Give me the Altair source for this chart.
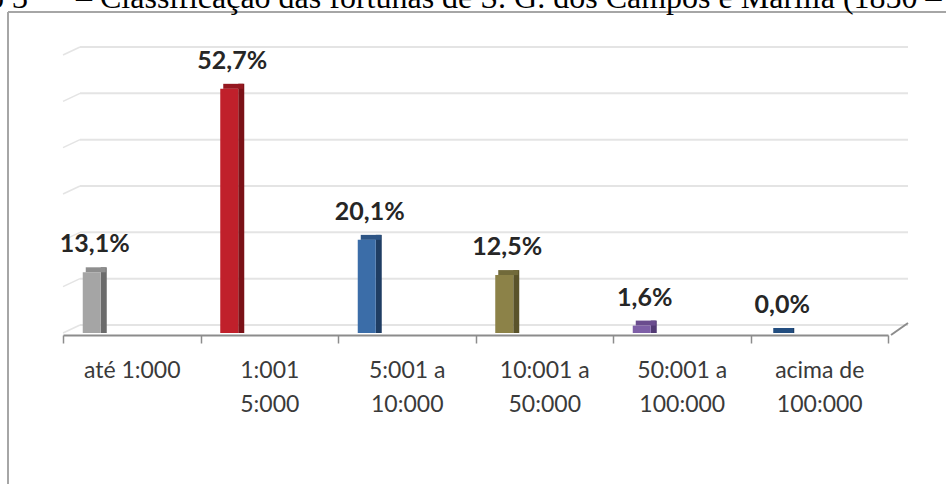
import altair as alt
import pandas as pd

# Fortune brackets (mil-réis) and share of inventories in each bracket (%)
categories = ["até 1:000", "1:001\n5:000", "5:001 a\n10:000", "10:001 a\n50:000",
              "50:001 a\n100:000", "acima de\n100:000"]
shares = [13.1, 52.7, 20.1, 12.5, 1.6, 0.0]
grid_values = [0, 10, 20, 30, 40, 50, 60]

# Face colours of the pseudo-3D columns: front, side and top
front_colors = ["#A5A5A5", "#C0202B", "#3B6DA8", "#8C8248", "#7E5FA7", "#2A5A91"]
side_colors = ["#6B6B6B", "#7A1117", "#1F3D63", "#5A532A", "#523A74", "#1B3B62"]
top_colors = ["#8E8E8E", "#951820", "#2E5585", "#716A3A", "#6A4C8E", "#234E80"]

title_left = "Gráfico 3"
title_right = "– Classificação das fortunas de S. G. dos Campos e Marília (1850 –"

df = pd.DataFrame({"cat": categories, "share": shares})
grid_df = pd.DataFrame({"v": grid_values})

W, H = 825, 278          # plot area
DEPTH_X, DEPTH_Y = 17, 8  # back-wall shift of the 3D box

x_enc = alt.X(
    "cat:N", sort=categories, title=None,
    scale=alt.Scale(paddingInner=0, paddingOuter=0),
    axis=alt.Axis(
        labelExpr="split(datum.label, '\\n')",
        labelAngle=0, labelFont="Lato", labelFontSize=23, labelColor="#3A3A3A",
        labelLineHeight=34, labelPadding=16, labelLimit=0,
        tickBand="extent", tickSize=8, tickColor="#8C8C8C", tickWidth=1.5,
        domainColor="#8C8C8C", domainWidth=2, offset=2, grid=False,
    ),
)
y_scale = alt.Scale(domain=[0, 60], nice=False)
y_enc = alt.Y("share:Q", scale=y_scale, axis=None)

base = alt.Chart(df)

# back-wall gridlines and their slanted continuation on the left wall
grid = alt.Chart(grid_df).mark_rule(color="#E4E4E4", strokeWidth=2, yOffset=-DEPTH_Y).encode(
    x=alt.value(DEPTH_X), x2=alt.value(W + DEPTH_X + 3),
    y=alt.Y("v:Q", scale=y_scale, axis=None),
)
wall = alt.Chart(grid_df).mark_rule(color="#E4E4E4", strokeWidth=1.5, y2Offset=-DEPTH_Y).encode(
    x=alt.value(0), x2=alt.value(DEPTH_X),
    y=alt.Y("v:Q", scale=y_scale, axis=None), y2="v:Q",
)
floor_edge = alt.Chart(pd.DataFrame({"v": [0]})).mark_rule(
    color="#8C8C8C", strokeWidth=2, yOffset=2, y2Offset=-10
).encode(
    x=alt.value(W + 3), x2=alt.value(W + DEPTH_X + 3),
    y=alt.Y("v:Q", scale=y_scale, axis=None), y2="v:Q",
)

side = base.mark_bar(size=6, xOffset=-28, yOffset=-5, y2Offset=0).encode(
    x=x_enc, y=y_enc, y2=alt.datum(0),
    color=alt.Color("cat:N", sort=categories, legend=None,
                    scale=alt.Scale(domain=categories, range=side_colors)),
)
top = base.mark_bar(size=20, xOffset=-36, yOffset=-5, y2Offset=0).encode(
    x=x_enc, y=y_enc, y2="share:Q",
    color=alt.Color("cat:N", sort=categories, legend=None,
                    scale=alt.Scale(domain=categories, range=top_colors)),
)
front = base.mark_bar(size=18, xOffset=-40).encode(
    x=x_enc, y=y_enc, y2=alt.datum(0),
    color=alt.Color("cat:N", sort=categories, legend=None,
                    scale=alt.Scale(domain=categories, range=front_colors)),
)
labels = base.transform_calculate(
    label="replace(format(datum.share, '.1f'), '.', ',') + '%'"
).mark_text(
    font="Lato", fontSize=25, fontWeight="bold", color="#262626",
    baseline="alphabetic", dy=-20, xOffset=-37,
).encode(x=x_enc, y=y_enc, text="label:N")

one = alt.Data(values=[{}])
frame_left = alt.Chart(one).mark_rule(color="#A6A6A6", strokeWidth=2).encode(
    x=alt.value(-55), x2=alt.value(-55), y=alt.value(-43), y2=alt.value(H + 151))
frame_top = alt.Chart(one).mark_rule(color="#A6A6A6", strokeWidth=2).encode(
    x=alt.value(-55), x2=alt.value(W + 58), y=alt.value(-43), y2=alt.value(-43))
# document caption above the chart frame, running past the top edge of the page
caption_a = alt.Chart(one).mark_text(
    font="Liberation Serif", fontSize=32, align="right", baseline="alphabetic", color="#000000"
).encode(x=alt.value(-35), y=alt.value(-47), text=alt.value(title_left))
caption_b = alt.Chart(one).mark_text(
    font="Liberation Serif", fontSize=32, align="left", baseline="alphabetic", color="#000000"
).encode(x=alt.value(13), y=alt.value(-47), text=alt.value(title_right))

chart = alt.layer(
    frame_left, frame_top, caption_a, caption_b,
    grid, wall, floor_edge, side, top, front, labels,
).resolve_scale(color="independent").properties(
    width=W, height=H,
    padding={"left": 63, "top": 55, "right": 58, "bottom": 151},
    autosize=alt.AutoSizeParams(type="none"),
    background="white",
).configure_view(stroke=None)

chart.save("out.html", embed_options={"renderer": "svg", "actions": False})
